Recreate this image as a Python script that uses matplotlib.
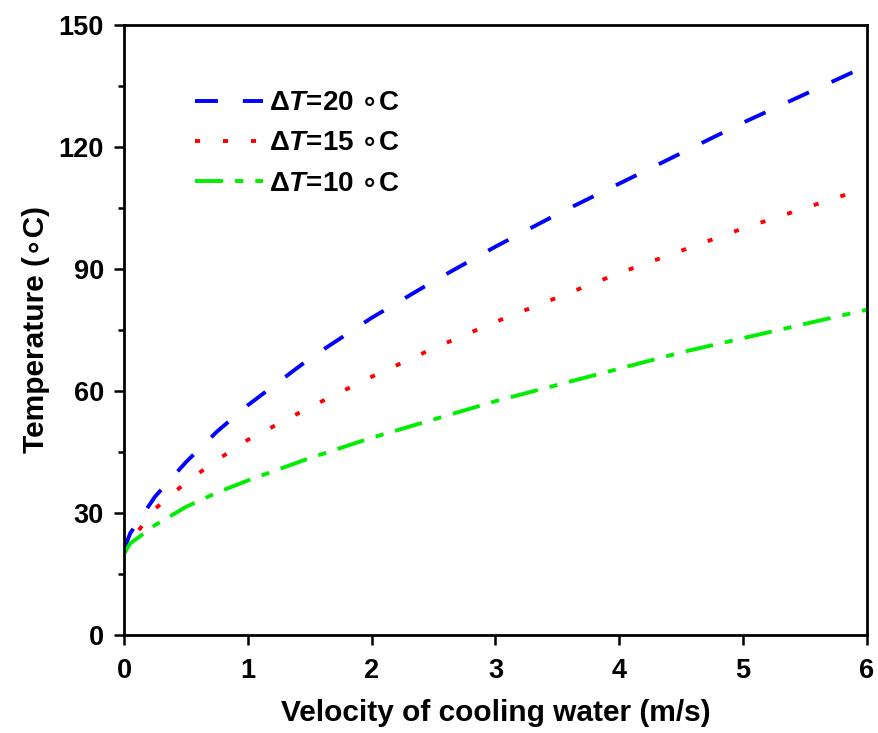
import matplotlib
matplotlib.use("Agg")
import matplotlib.pyplot as plt
from matplotlib.ticker import MultipleLocator

plt.rcParams["font.family"] = ["Liberation Sans", "DejaVu Sans"]
plt.rcParams["font.weight"] = "bold"
plt.rcParams["mathtext.fontset"] = "custom"
plt.rcParams["mathtext.rm"] = "Liberation Sans:bold"
plt.rcParams["mathtext.it"] = "Liberation Sans:italic:bold"
plt.rcParams["mathtext.bf"] = "Liberation Sans:bold"
plt.rcParams["mathtext.sf"] = "DejaVu Sans:bold"

# velocity of cooling water (m/s)
velocidad = [0, 0.05, 0.25, 0.5, 0.75, 1, 1.5, 2, 2.5, 3, 3.5, 4, 4.5, 5, 5.5, 6]
# temperature for each temperature rise
temp_dt20 = [21, 25, 34, 42.5, 50, 56.5, 68, 78, 87, 95.5, 103.5, 111, 118.5, 126, 133, 140]
temp_dt15 = [20, 23, 31, 37.5, 43, 48, 56, 63.5, 70.5, 77, 83, 89, 94.5, 100, 105, 110]
temp_dt10 = [20, 22.5, 27, 31.5, 35, 38, 43.5, 48.5, 53, 57.5, 61.5, 65.5, 69.5, 73, 76.5, 80]

etiquetas = [r"$\Delta\mathit{T}$=20 $\mathsf{∘}$C",
             r"$\Delta\mathit{T}$=15 $\mathsf{∘}$C",
             r"$\Delta\mathit{T}$=10 $\mathsf{∘}$C"]

fig = plt.figure(figsize=(8.79, 7.33), dpi=100)
ax = fig.add_axes([124 / 879, 1 - 635 / 733, 743 / 879, 610 / 733])

lw = 2.8
ax.plot(velocidad, temp_dt20, color="#0000ff", lw=lw, dashes=(5.9, 6.4), label=etiquetas[0])
ax.plot(velocidad, temp_dt15, color="#ff0000", lw=lw, dashes=(1.3, 5.9), label=etiquetas[1])
ax.plot(velocidad, temp_dt10, color="#00ee00", lw=lw, dashes=(7.2, 3.1, 2.1, 3.1), label=etiquetas[2])

ax.set_xlim(0, 6)
ax.set_ylim(0, 150)
ax.set_xticks(range(0, 7))
ax.yaxis.set_major_locator(MultipleLocator(30))
ax.yaxis.set_minor_locator(MultipleLocator(15))
ax.tick_params(axis="both", which="major", direction="out", length=7.5, width=1.8, labelsize=19.5, pad=7)
ax.tick_params(axis="x", which="major", pad=9)
ax.tick_params(axis="y", which="minor", direction="out", length=4.5, width=1.8)
for s in ax.spines.values():
    s.set_linewidth(2)

ax.set_xlabel("Velocity of cooling water (m/s)", fontsize=21.5, fontweight="bold", labelpad=11)
ax.set_ylabel("Temperature (∘C)", fontsize=21.5, fontweight="bold", labelpad=6)

ax.legend(loc="upper left", bbox_to_anchor=(0.0956, 0.893), frameon=False, fontsize=20,
          borderpad=0, borderaxespad=0, handlelength=2.45, handletextpad=0.2, labelspacing=0.51)

fig.savefig("out.png", dpi=100)
